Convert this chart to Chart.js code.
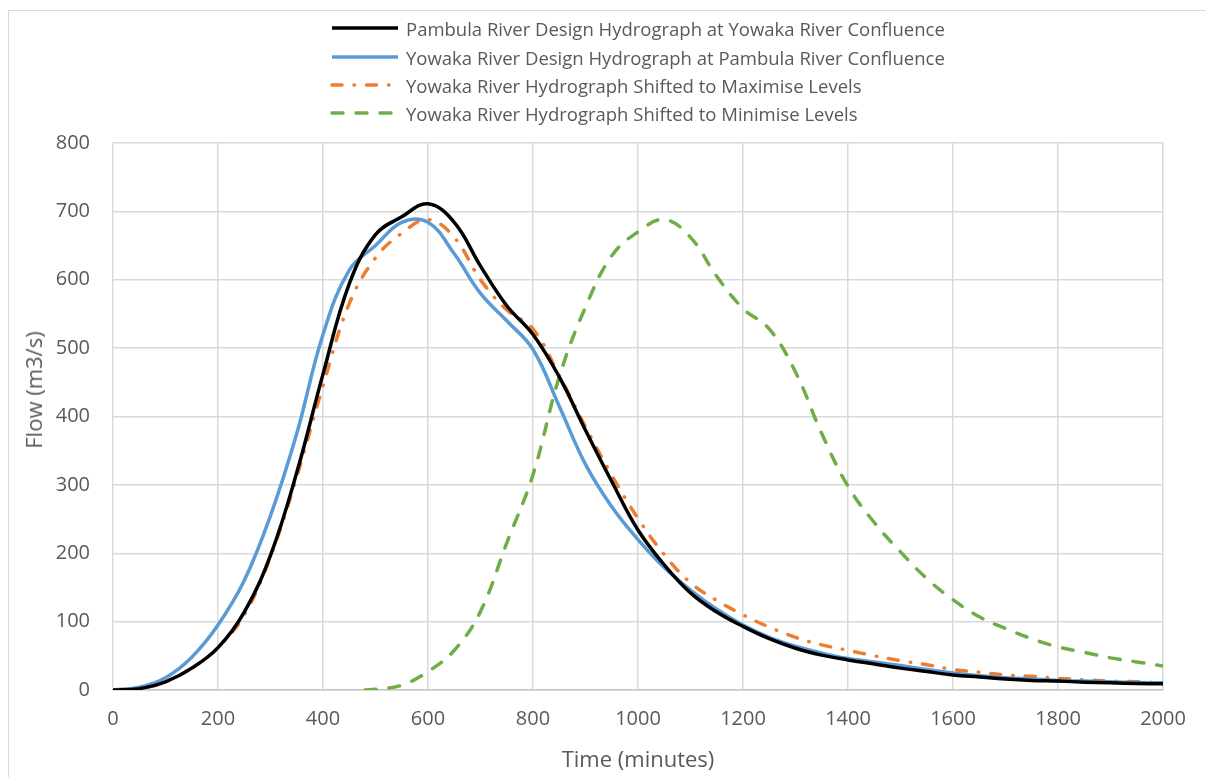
<!DOCTYPE html>
<html>
<head>
<meta charset="utf-8">
<script src="https://cdn.jsdelivr.net/npm/chart.js@4.4.1/dist/chart.umd.min.js"></script>
<style>
  html, body { margin: 0; padding: 0; background: #fff; overflow: hidden; }
  #wrap { position: relative; width: 1206px; height: 777px; }
  #frame { position: absolute; left: 8px; top: 10px; width: 1400px; height: 1000px;
           border: 1.5px solid #d9d9d9; box-sizing: border-box; }
  #chart { position: absolute; left: 0; top: 0; }
  #legend { position: absolute; left: 0; top: 0; font-family: "Open Sans", sans-serif;
            color: #595959; font-size: 18.5px; }
  .item { position: absolute; left: 330px; height: 28px; display: flex; align-items: center;
          white-space: nowrap; transform: translateY(-50%); }
  .item svg { margin-right: 6px; }
  #ytitle { position: absolute; left: 33px; top: 390px; font-family: "Open Sans", sans-serif;
            color: #595959; font-size: 22px; white-space: nowrap;
            transform: translate(-50%, -50%) rotate(-90deg); }
</style>
</head>
<body>
<div id="wrap">
  <div id="frame"></div>
  <canvas id="chart" width="1206" height="777"></canvas>
  <div id="legend"></div>
  <div id="ytitle">Flow (m3/s)</div>
</div>
<script>
// Time (minutes) sample points for the three main hydrographs
const times = [0, 50, 100, 150, 200, 250, 300, 350, 400, 450, 500, 550, 600, 650, 700, 750, 800,
  850, 900, 950, 1000, 1050, 1100, 1150, 1200, 1250, 1300, 1350, 1400, 1450, 1500, 1550, 1600,
  1650, 1700, 1750, 1800, 1850, 1900, 1950, 2000];

// Flow (m3/s)
const pambulaDesign = [0, 2, 12, 32, 62, 114, 197, 318, 462, 594, 666, 692, 711, 684, 620, 562, 520,
  458, 380, 305, 234, 183, 142, 114, 93, 75, 61, 51, 44, 38, 32, 27, 22, 19, 16, 14, 13, 11.5, 10.5, 9.5, 9];

const yowakaDesign = [0, 4, 18, 48, 95, 160, 255, 375, 520, 614, 650, 684, 684, 638, 580, 540, 498,
  415, 330, 268, 220, 179, 146, 118, 95, 77, 64, 54, 46, 41, 36, 30, 25, 21, 18, 16, 14, 13, 12, 11, 10.5];

const yowakaMax = [0, 2, 12, 32, 62, 110, 195, 312, 445, 565, 632, 668, 688, 662, 600, 556, 528,
  460, 385, 314, 251, 198, 157, 131, 110, 92, 77, 66, 58, 50, 43, 37, 30, 26, 22, 20, 17, 15, 13, 12, 11];

// The minimising shift starts later, so it has its own time points
const timesMin = [480, 500, 550, 600, 650, 700, 750, 800, 850, 900, 950, 1000, 1050, 1100, 1150,
  1200, 1250, 1300, 1350, 1400, 1450, 1500, 1550, 1600, 1650, 1700, 1750, 1800, 1850, 1900, 1950, 2000];
const yowakaMin = [0, 1, 7, 27, 58, 115, 215, 315, 458, 560, 635, 670, 688, 662, 605,
  558, 528, 465, 375, 298, 245, 202, 163, 132, 107, 90, 75, 63, 55, 47, 41, 35];

const seriesNames = [
  'Pambula River Design Hydrograph at Yowaka River Confluence',
  'Yowaka River Design Hydrograph at Pambula River Confluence',
  'Yowaka River Hydrograph Shifted to Maximise Levels',
  'Yowaka River Hydrograph Shifted to Minimise Levels'
];

const xTicks = [0, 200, 400, 600, 800, 1000, 1200, 1400, 1600, 1800, 2000];
const yTicks = [0, 100, 200, 300, 400, 500, 600, 700, 800];

const styles = [
  { color: '#000000', dash: [], cap: 'butt' },
  { color: '#5B9BD5', dash: [], cap: 'butt' },
  { color: '#ED7D31', dash: [10, 12, 0.5, 12], cap: 'round' },
  { color: '#70AD47', dash: [11, 13], cap: 'round' }
];

const pts = (xs, ys) => xs.map((x, i) => ({ x: x, y: ys[i] }));
const dataSets = [
  pts(times, pambulaDesign),
  pts(times, yowakaDesign),
  pts(times, yowakaMax),
  pts(timesMin, yowakaMin)
];

const LINE_W = 3.5;
const tickFont = { family: 'Open Sans', size: 20 };

new Chart(document.getElementById('chart'), {
  type: 'line',
  data: {
    datasets: dataSets.map((d, i) => ({
      label: seriesNames[i],
      data: d,
      borderColor: styles[i].color,
      backgroundColor: styles[i].color,
      borderWidth: LINE_W,
      borderDash: styles[i].dash,
      borderCapStyle: styles[i].cap,
      pointRadius: 0,
      fill: false,
      tension: 0.4,
      order: i
    }))
  },
  options: {
    responsive: false,
    animation: false,
    layout: { padding: { left: 0, right: 43, top: 143, bottom: 0 } },
    plugins: { legend: { display: false }, tooltip: { enabled: false } },
    scales: {
      x: {
        type: 'linear',
        min: 0, max: 2000,
        afterBuildTicks: s => { s.ticks = xTicks.map(v => ({ value: v })); },
        afterFit: s => { s.height = 87; },
        grid: { color: '#d9d9d9', lineWidth: 1.5, drawTicks: false },
        border: { display: true, color: '#c6c6c6', width: 1.5 },
        ticks: { color: '#595959', font: tickFont, padding: 17, maxRotation: 0,
                 callback: v => String(v) },
        title: { display: true, text: 'Time (minutes)', color: '#595959',
                 font: { family: 'Open Sans', size: 22 }, padding: { top: 0, bottom: 3 } }
      },
      y: {
        type: 'linear',
        min: 0, max: 800,
        afterBuildTicks: s => { s.ticks = yTicks.map(v => ({ value: v })); },
        afterFit: s => { s.width = 113; },
        grid: { color: '#d9d9d9', lineWidth: 1.5, drawTicks: false },
        border: { display: false },
        ticks: { color: '#595959', font: tickFont, padding: 23, callback: v => String(v) }
      }
    }
  }
});

// Legend: one series per row, with a line sample in the series' style
const legend = document.getElementById('legend');
const rowY = [28, 57, 85, 113];
seriesNames.forEach((name, i) => {
  const st = styles[i];
  const item = document.createElement('div');
  item.className = 'item';
  item.style.top = rowY[i] + 'px';
  const dash = st.dash.length ? `stroke-dasharray="${st.dash.join(' ')}"` : '';
  item.innerHTML = `<svg width="70" height="10"><line x1="2" y1="5" x2="68" y2="5" stroke="${st.color}"
    stroke-width="${LINE_W}" stroke-linecap="${st.cap}" ${dash}/></svg><span>${name}</span>`;
  legend.appendChild(item);
});
</script>
</body>
</html>
